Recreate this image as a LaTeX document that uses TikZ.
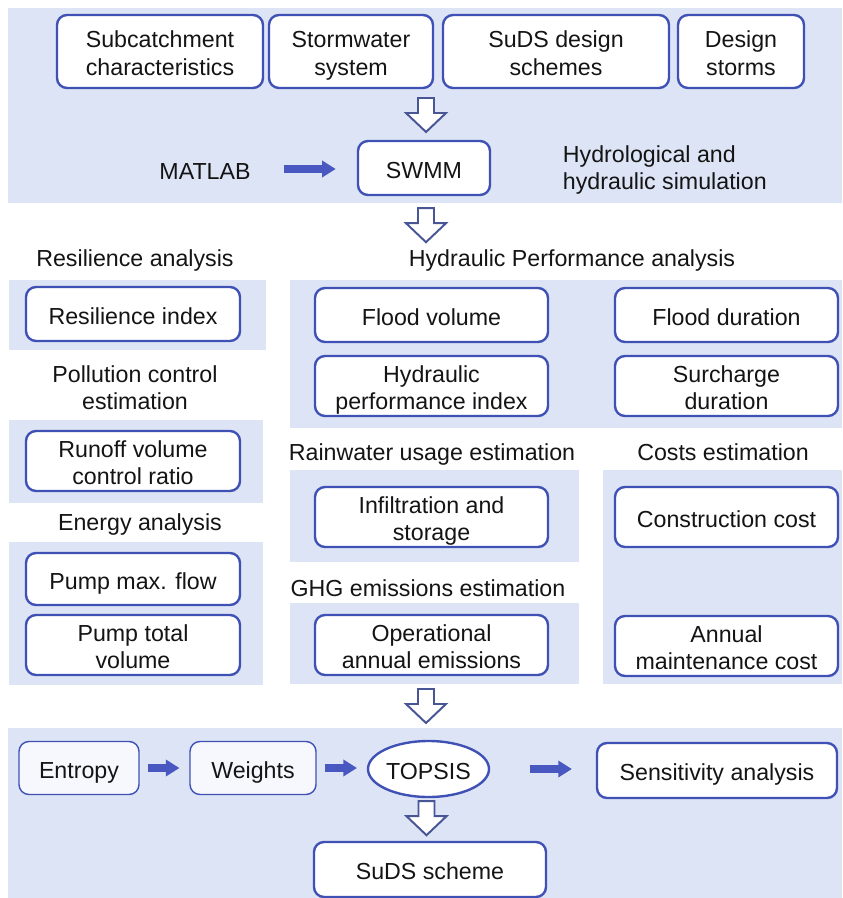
\documentclass[tikz,border=0pt]{standalone}
\usepackage{fontspec}
\setmainfont{Liberation Sans}
\usetikzlibrary{calc}
\usetikzlibrary{shapes.geometric}
\usetikzlibrary{arrows.meta}
\definecolor{PanelBlue}{RGB}{221,228,245}
\definecolor{BoxBlue}{RGB}{63,81,181}
\definecolor{ArrowBlue}{RGB}{72,88,192}
\definecolor{HollowGrey}{RGB}{72,86,150}
\definecolor{SoftWhite}{RGB}{246,248,254}

% open block arrow pointing down, top centre at #1
\newcommand{\hollowarrow}[1]{%
  \draw[hollow] ($(#1)+(-8,0)$) -- ++(16,0) -- ++(0,15) -- ++(12,0)
    -- ++(-20,19) -- ++(-20,-19) -- ++(12,0) -- cycle;}

\begin{document}
\begin{tikzpicture}[x=0.025cm, y=-0.025cm]
  \tikzstyle{every node}=[font=\fontsize{16.5}{19.5}\selectfont, text=black!92,
    text height=14.4pt, text depth=0pt]
  \tikzstyle{twolines}=[text height=33.9pt]
  \tikzstyle{panel}=[fill=PanelBlue]
  \tikzstyle{box}=[draw=BoxBlue, line width=1.7pt, fill=white, rounded corners=0.25cm, inner sep=0pt, align=center]
  \tikzstyle{softbox}=[box, line width=1pt, fill=SoftWhite]
  \tikzstyle{fillarrow}=[draw=ArrowBlue, line width=0.2cm, -{Triangle[length=0.34cm,width=0.4cm]}]
  \tikzstyle{hollow}=[draw=HollowGrey, line width=1.4pt, fill=white, line join=miter]
  \tikzset{boxsize/.style 2 args={minimum width=#1*0.025cm, minimum height=#2*0.025cm}}
  \useasboundingbox (0,0) rectangle (842,898);

  % background panels
  \fill[panel] (8,8) rectangle (842,203);
  \fill[panel] (9,280) rectangle (266,350);
  \fill[panel] (290,280) rectangle (842,428);
  \fill[panel] (9,420) rectangle (263,503);
  \fill[panel] (9,542) rectangle (263,685);
  \fill[panel] (290,470) rectangle (579,562);
  \fill[panel] (290,603) rectangle (579,684);
  \fill[panel] (603,470) rectangle (842,684);
  \fill[panel] (8,728) rectangle (842,898);

  % inputs and simulation
  \node[box, twolines, boxsize={206}{73}] (subcatch) at (160,51.5) {Subcatchment\\characteristics};
  \node[box, twolines, boxsize={164}{73}] (storm) at (351,51.5) {Stormwater\\system};
  \node[box, twolines, boxsize={226}{73}] (schemes) at (556,51.5) {SuDS design\\schemes};
  \node[box, twolines, boxsize={126}{73}] (dstorms) at (741,51.5) {Design\\storms};
  \node[box, boxsize={132}{54}] (swmm) at (424,168) {SWMM};
  \node (matlab) at (205,169) {MATLAB};
  \node[twolines, anchor=west, align=left] (hydro) at (558,166) {Hydrological and\\hydraulic simulation};
  \draw[fillarrow, shorten <=20pt, shorten >=15pt] (matlab.east) -- (matlab.east -| swmm.west);
  \coordinate (a1) at (426,98);
  \hollowarrow{a1}
  \coordinate (a2) at ($(swmm.south)+(2,12)$);
  \hollowarrow{a2}

  % criteria
  \node (resil) at (135,256) {Resilience analysis};
  \node (hydperf) at (572,256) {Hydraulic Performance analysis};
  \node[box, boxsize={214}{54}] (resindex) at (133,314) {Resilience index};
  \node[box, boxsize={233}{54}] (floodvol) at (431.5,315) {Flood volume};
  \node[box, boxsize={223}{54}] (flooddur) at (726.5,315) {Flood duration};
  \node[box, twolines, boxsize={233}{60}] (hpi) at (431.5,386) {Hydraulic\\performance index};
  \node[box, twolines, boxsize={223}{60}] (surcharge) at (726.5,386) {Surcharge\\duration};
  \node[twolines, align=center] (pollution) at (135,386) {Pollution control\\estimation};
  \node[box, twolines, boxsize={214}{60}] (runoff) at (133,461) {Runoff volume\\control ratio};
  \node (rainwater) at (432,450) {Rainwater usage estimation};
  \node (costs) at (723,450) {Costs estimation};
  \node (energy) at (140,520) {Energy analysis};
  \node[box, twolines, boxsize={233}{60}] (infil) at (431.5,517) {Infiltration and\\storage};
  \node[box, boxsize={223}{60}] (constr) at (726.5,517) {Construction cost};
  \node[box, boxsize={214}{52}] (pumpmax) at (133,579) {Pump max. flow};
  \node[box, twolines, boxsize={214}{60}] (pumptot) at (133,645) {Pump total\\volume};
  \node (ghg) at (428,586) {GHG emissions estimation};
  \node[box, twolines, boxsize={233}{60}] (oper) at (431.5,645) {Operational\\annual emissions};
  \node[box, twolines, boxsize={223}{60}] (maint) at (726.5,646) {Annual\\maintenance cost};
  \coordinate (a3) at (426,689);
  \hollowarrow{a3}

  % decision making
  \node[softbox, boxsize={120}{53}] (entropy) at (79,768) {Entropy};
  \node[softbox, boxsize={126}{53}] (weights) at (253,768) {Weights};
  \node[box, ellipse, boxsize={121}{56}] (topsis) at (428.5,769) {TOPSIS};
  \node[box, boxsize={240}{55}] (sens) at (717,770.5) {Sensitivity analysis};
  \node[box, boxsize={232}{55}] (scheme) at (430,869.5) {SuDS scheme};
  \draw[fillarrow, shorten <=6pt, shorten >=7pt] (entropy.east) -- (entropy.east -| weights.west);
  \draw[fillarrow, shorten <=6pt, shorten >=7pt] (weights.east) -- (weights.east -| topsis.west);
  \draw[fillarrow, shorten <=28pt, shorten >=17pt] (topsis.east) -- (topsis.east -| sens.west);
  \coordinate (a4) at ($(topsis.south)+(-2,3)$);
  \hollowarrow{a4}
\end{tikzpicture}
\end{document}
